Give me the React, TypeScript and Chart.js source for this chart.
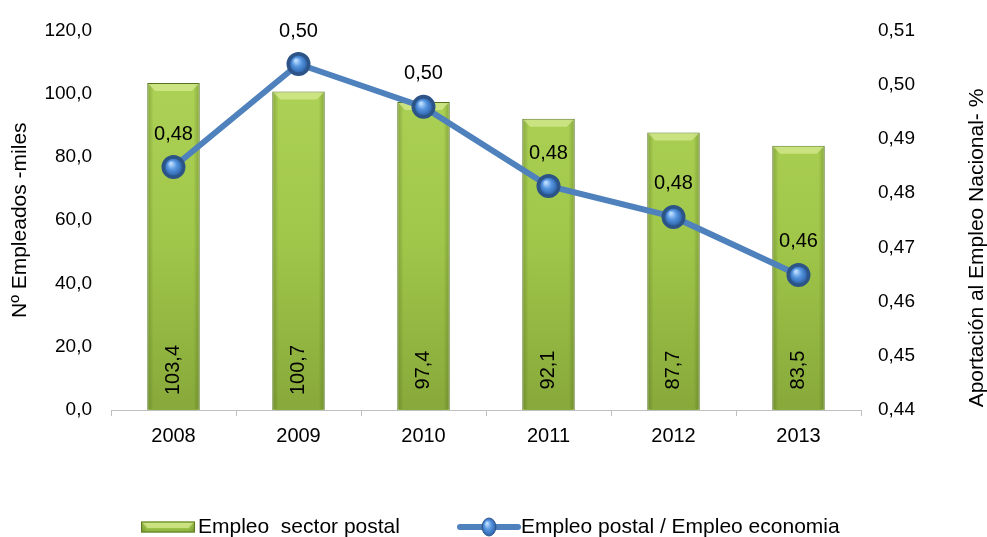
import { useEffect, useRef } from 'react';
import { Chart, registerables } from 'chart.js';
Chart.register(...registerables);

const categories = ['2008', '2009', '2010', '2011', '2012', '2013'];
const employment = [103.4, 100.7, 97.4, 92.1, 87.7, 83.5];
const share = [0.4848, 0.5038, 0.4959, 0.4813, 0.4756, 0.4649];
const barLabel = 'Empleo  sector postal';
const lineLabel = 'Empleo postal / Empleo economia';
const leftTitle = 'Nº Empleados -miles';
const rightTitle = 'Aportación al Empleo Nacional- %';

const FONT = '"Liberation Sans", Arial, sans-serif';
const fmt1 = (v: number) => v.toFixed(1).replace('.', ',');
const fmt2 = (v: number) => v.toFixed(2).replace('.', ',');

function barFill(ctx: CanvasRenderingContext2D, top: number, bottom: number) {
  const g = ctx.createLinearGradient(0, top, 0, bottom);
  g.addColorStop(0, '#b4d95c');
  g.addColorStop(0.55, '#a4cb4c');
  g.addColorStop(1, '#8aac3c');
  return g;
}

function drawBevel(ctx: CanvasRenderingContext2D, l: number, t: number, r: number, b: number) {
  const w = r - l;
  const g = ctx.createLinearGradient(l, 0, r, 0);
  g.addColorStop(0, 'rgba(50,70,10,0.32)');
  g.addColorStop(0.12, 'rgba(50,70,10,0.03)');
  g.addColorStop(0.88, 'rgba(50,70,10,0.03)');
  g.addColorStop(1, 'rgba(50,70,10,0.32)');
  ctx.fillStyle = g;
  ctx.fillRect(l + 1, t + 1, w - 2, b - t - 2);
  const bv = Math.min(7, (b - t) / 2);
  ctx.beginPath();
  ctx.moveTo(l + 1, t + 1);
  ctx.lineTo(r - 1, t + 1);
  ctx.lineTo(r - 1 - bv, t + 1 + bv);
  ctx.lineTo(l + 1 + bv, t + 1 + bv);
  ctx.closePath();
  ctx.fillStyle = 'rgba(225,242,160,0.6)';
  ctx.fill();
}

function drawBall(ctx: CanvasRenderingContext2D, x: number, y: number, rx: number, ry: number) {
  ctx.save();
  ctx.translate(x, y);
  ctx.scale(rx / ry, 1);
  const g = ctx.createRadialGradient(-ry * 0.3, -ry * 0.4, 1, 0, 0, ry);
  g.addColorStop(0, '#b8dafc');
  g.addColorStop(0.45, '#5696e0');
  g.addColorStop(1, '#2c62a8');
  ctx.beginPath();
  ctx.arc(0, 0, ry, 0, Math.PI * 2);
  ctx.fillStyle = g;
  ctx.fill();
  ctx.lineWidth = 1;
  ctx.strokeStyle = '#2c5486';
  ctx.stroke();
  ctx.restore();
}

export default function App() {
  const ref = useRef<HTMLCanvasElement>(null);
  useEffect(() => {
    document.body.style.margin = '0';
    const canvas = ref.current!;
    Chart.defaults.font.family = FONT;

    const decor = {
      id: 'decor',
      afterDatasetDraw(chart: any, args: any) {
        const ctx = chart.ctx as CanvasRenderingContext2D;
        const meta = args.meta;
        ctx.save();
        if (meta.type === 'bar') {
          meta.data.forEach((bar: any) => {
            const p = bar.getProps(['x', 'y', 'base', 'width'], true);
            drawBevel(ctx, p.x - p.width / 2, p.y, p.x + p.width / 2, p.base);
          });
        } else if (meta.type === 'line') {
          meta.data.forEach((pt: any) => {
            drawBall(ctx, pt.x, pt.y, 9, 9);
          });
        }
        ctx.restore();
      },
      afterDatasetsDraw(chart: any) {
        const ctx = chart.ctx as CanvasRenderingContext2D;
        ctx.save();
        ctx.fillStyle = '#000';
        ctx.font = `20px ${FONT}`;
        ctx.textAlign = 'center';
        ctx.textBaseline = 'middle';
        const barMeta = chart.getDatasetMeta(0);
        barMeta.data.forEach((bar: any, i: number) => {
          const p = bar.getProps(['x', 'base'], true);
          ctx.save();
          ctx.translate(p.x, p.base - 40);
          ctx.rotate(-Math.PI / 2);
          ctx.fillText(fmt1(employment[i]), 0, 0);
          ctx.restore();
        });
        const lineMeta = chart.getDatasetMeta(1);
        lineMeta.data.forEach((pt: any, i: number) => {
          ctx.fillText(fmt2(share[i]), pt.x, pt.y - 33);
        });
        ctx.restore();
      },
      afterDraw(chart: any) {
        const ctx = chart.ctx as CanvasRenderingContext2D;
        const a = chart.chartArea;
        ctx.save();
        ctx.fillStyle = '#000';
        ctx.font = `21px ${FONT}`;
        ctx.textAlign = 'center';
        ctx.textBaseline = 'middle';
        // axis titles
        ctx.save();
        ctx.translate(20, (a.top + a.bottom) / 2);
        ctx.rotate(-Math.PI / 2);
        ctx.fillText(leftTitle, 0, 0);
        ctx.restore();
        ctx.save();
        ctx.translate(977, 248);
        ctx.rotate(-Math.PI / 2);
        ctx.fillText(rightTitle, 0, 0);
        ctx.restore();
        // legend
        const ly = 527;
        const rx0 = 141, rx1 = 195, rh = 11;
        ctx.fillStyle = barFill(ctx, ly - rh / 2, ly + rh / 2);
        ctx.fillRect(rx0, ly - rh / 2, rx1 - rx0, rh);
        drawBevel(ctx, rx0, ly - rh / 2, rx1, ly + rh / 2);
        ctx.strokeStyle = '#5b7a22';
        ctx.lineWidth = 1;
        ctx.strokeRect(rx0 + 0.5, ly - rh / 2 + 0.5, rx1 - rx0 - 1, rh - 1);
        ctx.fillStyle = '#000';
        ctx.textAlign = 'left';
        ctx.fillText(barLabel, 198, ly);
        ctx.strokeStyle = '#4f81bd';
        ctx.lineWidth = 6;
        ctx.lineCap = 'round';
        ctx.beginPath();
        ctx.moveTo(460, ly);
        ctx.lineTo(518, ly);
        ctx.stroke();
        drawBall(ctx, 489, ly, 7, 9);
        ctx.fillStyle = '#000';
        ctx.fillText(lineLabel, 521, ly);
        ctx.restore();
      },
    };

    const chart = new Chart(canvas, {
      data: {
        labels: categories,
        datasets: [
          {
            type: 'bar',
            label: barLabel,
            data: employment,
            yAxisID: 'y',
            order: 1,
            backgroundColor: (c: any) => {
              const a = c.chart.chartArea;
              if (!a) return '#9bbb59';
              return barFill(c.chart.ctx, a.top, a.bottom);
            },
            borderColor: '#55741f',
            borderWidth: 1,
            categoryPercentage: 1,
            barPercentage: 0.42,
          },
          {
            type: 'line',
            label: lineLabel,
            data: share,
            yAxisID: 'y1',
            order: 0,
            borderColor: '#4f81bd',
            borderWidth: 6,
            pointRadius: 9,
            pointBackgroundColor: '#4a88d6',
            pointBorderColor: '#2c5486',
            tension: 0,
          },
        ],
      } as any,
      options: {
        responsive: false,
        animation: false,
        events: [],
        layout: { padding: { top: 27, left: 0, right: 0, bottom: 0 } },
        plugins: { legend: { display: false }, tooltip: { enabled: false }, title: { display: false } },
        scales: {
          x: {
            type: 'category',
            offset: true,
            grid: { display: true, drawOnChartArea: false, drawTicks: true, tickLength: 6, color: '#bfbfbf', offset: true },
            border: { display: true, color: '#bfbfbf', width: 1 },
            ticks: { color: '#000', font: { size: 20, family: FONT }, padding: 8, maxRotation: 0 },
            afterFit: (s: any) => { s.height = 127; },
          },
          y: {
            type: 'linear',
            position: 'left',
            min: 0,
            max: 120,
            ticks: { stepSize: 20, color: '#000', font: { size: 19, family: FONT }, padding: 19, callback: (v: any) => fmt1(Number(v)) },
            grid: { display: false, drawTicks: false },
            border: { display: false },
            afterFit: (s: any) => { s.width = 111; },
          },
          y1: {
            type: 'linear',
            position: 'right',
            min: 0.44,
            max: 0.51,
            ticks: { stepSize: 0.01, color: '#000', font: { size: 19, family: FONT }, padding: 17, callback: (v: any) => fmt2(Number(v)) },
            grid: { display: false, drawTicks: false },
            border: { display: false },
            afterFit: (s: any) => { s.width = 126; },
          },
        },
      } as any,
      plugins: [decor],
    });
    return () => chart.destroy();
  }, []);
  return (
    <div style={{ width: 987, height: 537 }}>
      <canvas ref={ref} width={987} height={537} />
    </div>
  );
}
